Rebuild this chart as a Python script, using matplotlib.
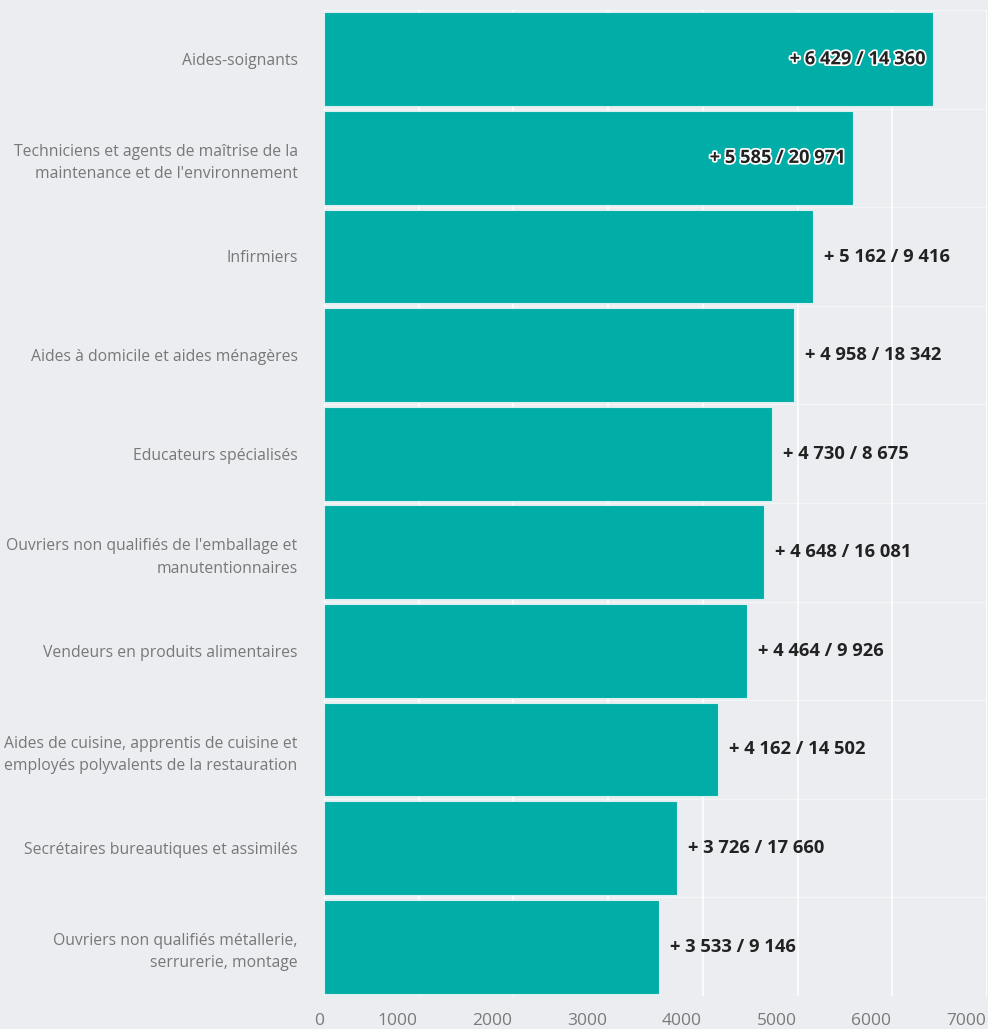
import matplotlib
matplotlib.use("Agg")
import matplotlib.pyplot as plt
import matplotlib.patheffects as pe
from matplotlib.transforms import ScaledTranslation

categories = [
    "Aides-soignants",
    "Techniciens et agents de maîtrise de la\nmaintenance et de l'environnement",
    "Infirmiers",
    "Aides à domicile et aides ménagères",
    "Educateurs spécialisés",
    "Ouvriers non qualifiés de l'emballage et\nmanutentionnaires",
    "Vendeurs en produits alimentaires",
    "Aides de cuisine, apprentis de cuisine et\nemployés polyvalents de la restauration",
    "Secrétaires bureautiques et assimilés",
    "Ouvriers non qualifiés métallerie,\nserrurerie, montage",
]
values = [6429, 5585, 5162, 4958, 4730, 4648, 4464, 4162, 3726, 3533]
totals = [14360, 20971, 9416, 18342, 8675, 16081, 9926, 14502, 17660, 9146]
xticks = [0, 1000, 2000, 3000, 4000, 5000, 6000, 7000]

BG = "#ecedf0"
BAR = "#00ada7"

plt.rcParams["font.family"] = ["Open Sans", "DejaVu Sans"]

fig = plt.figure(figsize=(9.88, 10.29), dpi=100, facecolor=BG)
ax = fig.add_axes([324 / 988, 33 / 1029, 663 / 988, 986 / 1029])
ax.set_facecolor(BG)

n = len(categories)
ypos = list(range(n))
ax.barh(ypos, values, height=0.95, color=BAR, edgecolor="#d8f0ef", linewidth=0.8, zorder=3)
ax.set_ylim(n - 0.5, -0.5)
ax.set_xlim(0, 7000)

# grid
ax.set_xticks(xticks)
ax.grid(axis="x", color="white", linewidth=1.2, zorder=1)
for b in range(n + 1):
    ax.axhline(b - 0.5, color="#f4f5f7", linewidth=1.0, zorder=1)

for s in ax.spines.values():
    s.set_visible(False)
ax.tick_params(axis="both", length=0)

ax.set_yticks(ypos)
ax.set_yticklabels(categories, fontsize=11.3, color="#787878", linespacing=1.55)
ax.tick_params(axis="y", pad=19)

ax.set_xticklabels([str(t) for t in xticks], fontsize=12.5, color="#7a7a7a")
ax.tick_params(axis="x", pad=12)
for i, lab in enumerate(ax.get_xticklabels()):
    dx = -5 if i == 0 else -21
    lab.set_transform(lab.get_transform() + ScaledTranslation(dx / 100, 0, fig.dpi_scale_trans))

def fmt(v):
    return f"{v:,}".replace(",", " ")

for y, v, t in zip(ypos, values, totals):
    txt = f"+ {fmt(v)} / {fmt(t)}"
    if v > 5500:
        tr = ax.transData + ScaledTranslation(-7 / 100, 0, fig.dpi_scale_trans)
        ax.text(v, y, txt, transform=tr, ha="right", va="center", fontsize=13.2,
                fontweight="bold", color="#222222", zorder=5,
                path_effects=[pe.withStroke(linewidth=2.5, foreground="white")])
    else:
        tr = ax.transData + ScaledTranslation(11 / 100, 0, fig.dpi_scale_trans)
        ax.text(v, y, txt, transform=tr, ha="left", va="center", fontsize=13.2,
                fontweight="bold", color="#222222", zorder=5)

fig.savefig("out.png", dpi=100, facecolor=BG)
